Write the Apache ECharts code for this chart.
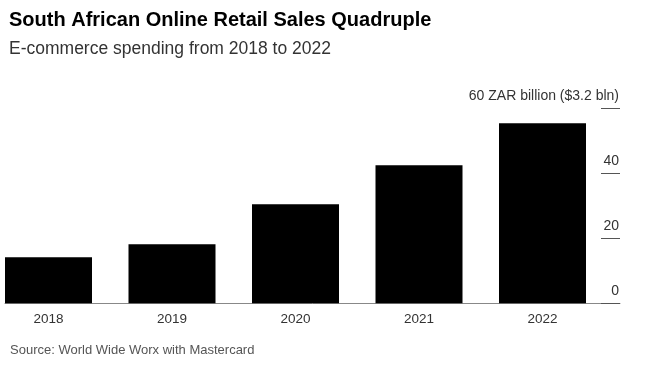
<!DOCTYPE html>
<html><head><meta charset="utf-8">
<script src="https://cdn.jsdelivr.net/npm/echarts@6/dist/echarts.min.js"></script>
<style>html,body{margin:0;padding:0;background:#fff}#c{width:647px;height:366px}</style>
</head><body><div id="c"></div>
<script>
const categories = ['2018','2019','2020','2021','2022'];
const sales = [14.2, 18.2, 30.5, 42.5, 55.4];
const yTicks = [0, 20, 40, 60];
const unitLabel = 'ZAR billion ($3.2 bln)';

const FONT = '"Liberation Sans", Arial, sans-serif';
const chart = echarts.init(document.getElementById('c'), null, {renderer:'canvas'});
chart.setOption({
  backgroundColor: '#fff',
  animation: false,
  title: [
    {text: 'South African Online Retail Sales Quadruple', left: 4, top: 5,
     textStyle: {fontFamily: FONT, fontSize: 20, fontWeight: 'bold', color: '#000'}},
    {text: 'E-commerce spending from 2018 to 2022', left: 4, top: 35,
     textStyle: {fontFamily: FONT, fontSize: 17.5, fontWeight: 'normal', color: '#333'}},
    {text: 'Source: World Wide Worx with Mastercard', left: 5, top: 339,
     textStyle: {fontFamily: FONT, fontSize: 13, fontWeight: 'normal', color: '#555'}}
  ],
  grid: [
    {left: -13.25, width: 617.5, top: 108.3, bottom: 62.7, outerBoundsMode: 'none', containLabel: false},
    {left: 5, width: 615, top: 108.3, bottom: 62.7, outerBoundsMode: 'none', containLabel: false}
  ],
  xAxis: [
    {type: 'category', gridIndex: 0, data: categories,
     axisLine: {show: false}, axisTick: {show: false},
     axisLabel: {fontFamily: FONT, fontSize: 13.5, color: '#333', margin: 9}},
    {type: 'value', gridIndex: 1, min: 0, max: 1,
     axisLine: {show: true, onZero: false, lineStyle: {color: '#888', width: 1}},
     axisTick: {show: false}, axisLabel: {show: false}, splitLine: {show: false}}
  ],
  yAxis: [
    {type: 'value', gridIndex: 0, min: 0, max: 60, interval: 20, show: false,
     axisLine: {show: false}, axisTick: {show: false}, axisLabel: {show: false}, splitLine: {show: false}},
    {type: 'value', gridIndex: 1, min: 0, max: 60, interval: 20, position: 'right',
     axisLine: {show: false, onZero: false},
     axisTick: {show: true, inside: true, length: 19, lineStyle: {color: '#555'}},
     splitLine: {show: false},
     axisLabel: {inside: true, margin: 1, verticalAlign: 'bottom', padding: [0,0,5,0],
       fontFamily: FONT, fontSize: 14, color: '#333',
       formatter: v => v === yTicks[yTicks.length-1] ? v + ' ' + unitLabel : String(v)}}
  ],
  series: [{
    type: 'bar', xAxisIndex: 0, yAxisIndex: 0, data: sales,
    barWidth: 87, itemStyle: {color: '#000'}
  }]
});
</script></body></html>
